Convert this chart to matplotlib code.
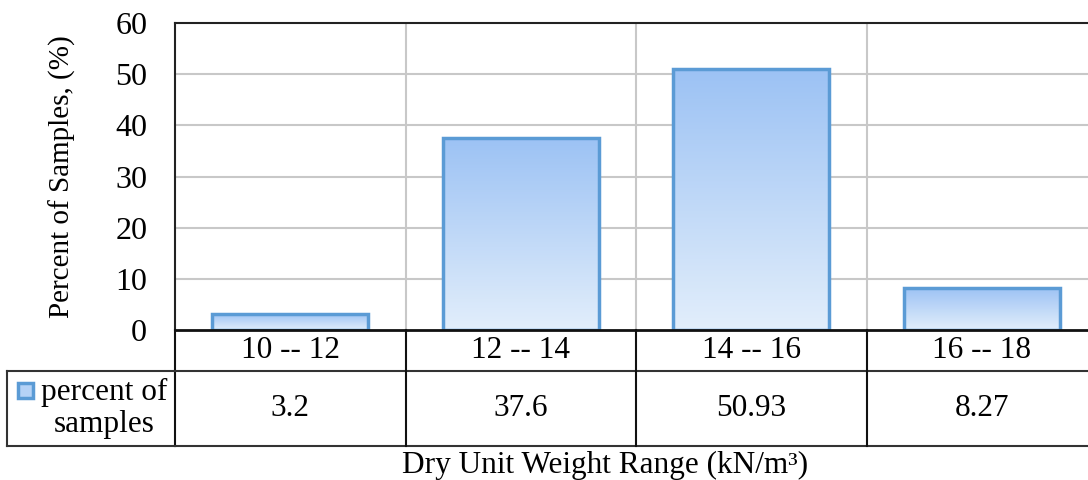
import numpy as np
import matplotlib
matplotlib.use("Agg")
import matplotlib.pyplot as plt
from matplotlib.colors import LinearSegmentedColormap
from matplotlib.patches import Rectangle
from matplotlib.lines import Line2D
from matplotlib.transforms import blended_transform_factory

categories = ["10 -- 12", "12 -- 14", "14 -- 16", "16 -- 18"]
percent = [3.2, 37.6, 50.93, 8.27]
value_labels = ["3.2", "37.6", "50.93", "8.27"]
series_name = "percent of\nsamples"

plt.rcParams["font.family"] = ["Liberation Serif", "DejaVu Serif"]

W, H = 1088, 480
fig = plt.figure(figsize=(W / 100, H / 100), dpi=100)

# plot area in pixels (right side runs past the picture edge)
px_left, px_right, px_top, px_bottom = 175, 1097, 23, 330
ax = fig.add_axes([px_left / W, 1 - px_bottom / H,
                   (px_right - px_left) / W, (px_bottom - px_top) / H])

edge = "#5B9BD5"
cmap = LinearSegmentedColormap.from_list("bar", ["#E2EEFB", "#9CC2F4"])
grad = np.linspace(0, 1, 256).reshape(-1, 1)

x = np.arange(len(categories))
bw = 0.675
bars = ax.bar(x, percent, width=bw, facecolor="none", edgecolor=edge,
              linewidth=2.5, zorder=3)
for b in bars:
    x0, w, h = b.get_x(), b.get_width(), b.get_height()
    im = ax.imshow(grad, extent=[x0, x0 + w, 0, h], origin="lower",
                   aspect="auto", cmap=cmap, zorder=2)
    im.set_clip_path(b)

ax.set_xlim(-0.5, len(categories) - 0.5)
ax.set_ylim(0, 60)
ax.set_yticks(np.arange(0, 61, 10))
ax.tick_params(axis="y", length=0, labelsize=23, pad=20)
ax.set_xticks([])

# grid: horizontal lines + category boundaries
for yv in np.arange(10, 60, 10):
    ax.axhline(yv, color="#C8C8C8", lw=1.5, zorder=1)
for xv in x[1:] - 0.5:
    ax.axvline(xv, color="#C8C8C8", lw=1.5, zorder=1)

for s in ["right", "bottom"]:
    ax.spines[s].set_visible(False)
ax.spines["left"].set_color("#222222")
ax.spines["top"].set_color("#222222")
ax.spines["left"].set_linewidth(1.5)
ax.spines["top"].set_linewidth(1.5)

ax.set_ylabel("Percent of Samples, (%)", fontsize=21, labelpad=28)

# data table under the axis
tr = blended_transform_factory(ax.transData, fig.transFigure)
ty = lambda p: 1 - p / H
row1, row2, row3 = 330, 371, 446
xl, xr = -0.5, len(categories) - 0.5
lc = "#333333"
fig.add_artist(Line2D([xl, xr], [ty(row1)] * 2, transform=tr, color="#111111", lw=2))
fig.add_artist(Line2D([xl, xr], [ty(row2)] * 2, transform=tr, color=lc, lw=1.5))
fig.add_artist(Line2D([xl, xr], [ty(row3)] * 2, transform=tr, color=lc, lw=1.5))
for xv in np.arange(len(categories)) - 0.5:
    fig.add_artist(Line2D([xv, xv], [ty(row1), ty(row3)], transform=tr, color="#111111", lw=1.5))
# legend cell on the left
fig.add_artist(Line2D([7 / W, px_left / W], [ty(row2)] * 2, transform=fig.transFigure, color=lc, lw=1.5))
fig.add_artist(Line2D([7 / W, px_left / W], [ty(row3)] * 2, transform=fig.transFigure, color=lc, lw=1.5))
fig.add_artist(Line2D([7 / W, 7 / W], [ty(row2), ty(row3)], transform=fig.transFigure, color=lc, lw=1.5))

for xi, cat, val in zip(x, categories, value_labels):
    fig.text(xi, ty((row1 + row2) / 2), cat, transform=tr, ha="center", va="center", fontsize=22.5)
    fig.text(xi, ty((row2 + row3) / 2), val, transform=tr, ha="center", va="center", fontsize=22.5)

fig.add_artist(Rectangle((18 / W, ty(398)), 15 / W, 15 / H, transform=fig.transFigure,
                         facecolor="#B5D2F6", edgecolor=edge, lw=2.5))
fig.text(104 / W, ty((row2 + row3) / 2), series_name, ha="center", va="center",
         fontsize=22.5, linespacing=1.1)

fig.text(605 / W, ty(465), "Dry Unit Weight Range (kN/m³)", ha="center", va="center",
         fontsize=22.5)

fig.savefig("out.png", dpi=100)
